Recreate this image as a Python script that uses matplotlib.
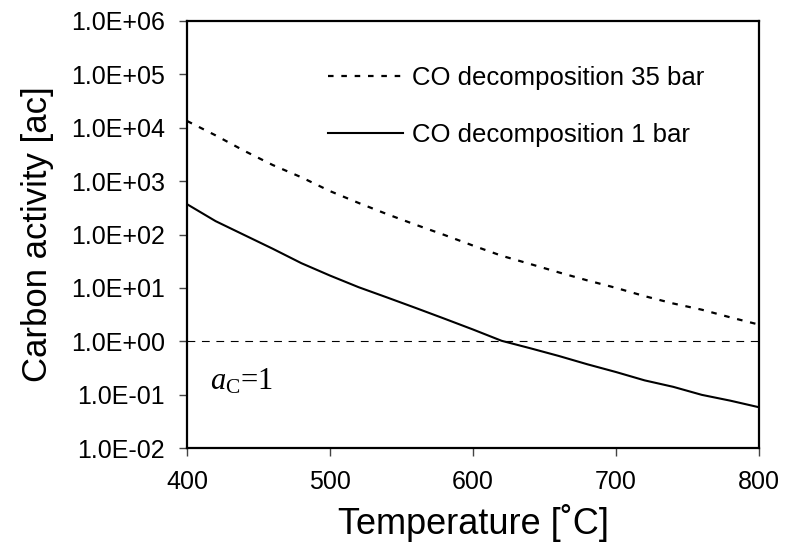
import matplotlib
matplotlib.use("Agg")
import matplotlib.pyplot as plt
from matplotlib.ticker import FixedLocator, FuncFormatter, NullLocator

plt.rcParams['font.family'] = ['Liberation Sans', 'DejaVu Sans']
plt.rcParams['mathtext.fontset'] = 'custom'
plt.rcParams['mathtext.rm'] = 'Liberation Serif'
plt.rcParams['mathtext.it'] = 'Liberation Serif:italic'

# Temperatures [C]
temps = [400, 420, 440, 460, 480, 500, 520, 540, 560, 580, 600,
         620, 640, 660, 680, 700, 720, 740, 760, 780, 800]

# Carbon activity, CO decomposition at 35 bar
ac_35bar = [13400, 7200, 3700, 2000, 1180, 650, 390, 240, 152, 98, 62,
            40, 28, 19.5, 13.8, 10.0, 7.0, 5.1, 3.9, 2.8, 2.05]

# Carbon activity, CO decomposition at 1 bar
ac_1bar = [370, 178, 98, 54, 29, 17, 10.3, 6.6, 4.2, 2.65, 1.66,
           1.02, 0.74, 0.53, 0.37, 0.265, 0.185, 0.14, 0.099, 0.077, 0.058]

y_ticks = [1e-2, 1e-1, 1e0, 1e1, 1e2, 1e3, 1e4, 1e5, 1e6]
x_ticks = [400, 500, 600, 700, 800]

fig = plt.figure(figsize=(7.85, 5.5), dpi=100)
ax = fig.add_axes([187/785, 1 - 448/550, 572/785, 427/550])

ax.plot(temps, ac_35bar, color='black', lw=1.6, dashes=(2.5, 3.5),
        label='CO decomposition 35 bar')
ax.plot(temps, ac_1bar, color='black', lw=1.5, label='CO decomposition 1 bar')
ax.axhline(1.0, color='black', lw=0.8, dashes=(7, 6))

ax.set_yscale('log')
ax.set_xlim(400, 800)
ax.set_ylim(1e-2, 1e6)
ax.yaxis.set_major_locator(FixedLocator(y_ticks))
ax.yaxis.set_minor_locator(NullLocator())
ax.yaxis.set_major_formatter(FuncFormatter(lambda v, p: f"{v:.1E}"))
ax.xaxis.set_major_locator(FixedLocator(x_ticks))

for s in ax.spines.values():
    s.set_linewidth(1.6)
ax.tick_params(axis='both', direction='out', length=6, width=1,
               labelsize=18, color='#444444')
ax.tick_params(axis='y', pad=10)
ax.tick_params(axis='x', pad=10)

ax.set_xlabel('Temperature [˚C]', fontsize=26, labelpad=7)
ax.set_ylabel('Carbon activity [ac]', fontsize=25, labelpad=12)

ax.text(0.04, 0.137, r'$a_{\mathrm{C}}$=1', transform=ax.transAxes,
        fontsize=22, family='Liberation Serif')

ax.legend(loc='upper left', bbox_to_anchor=(328/785, 1 - 66/550),
          bbox_transform=fig.transFigure, frameon=False, fontsize=18.5,
          handlelength=2.9, handletextpad=0.35, labelspacing=1.3,
          borderpad=0, borderaxespad=0)

fig.savefig('out.png', dpi=100)
